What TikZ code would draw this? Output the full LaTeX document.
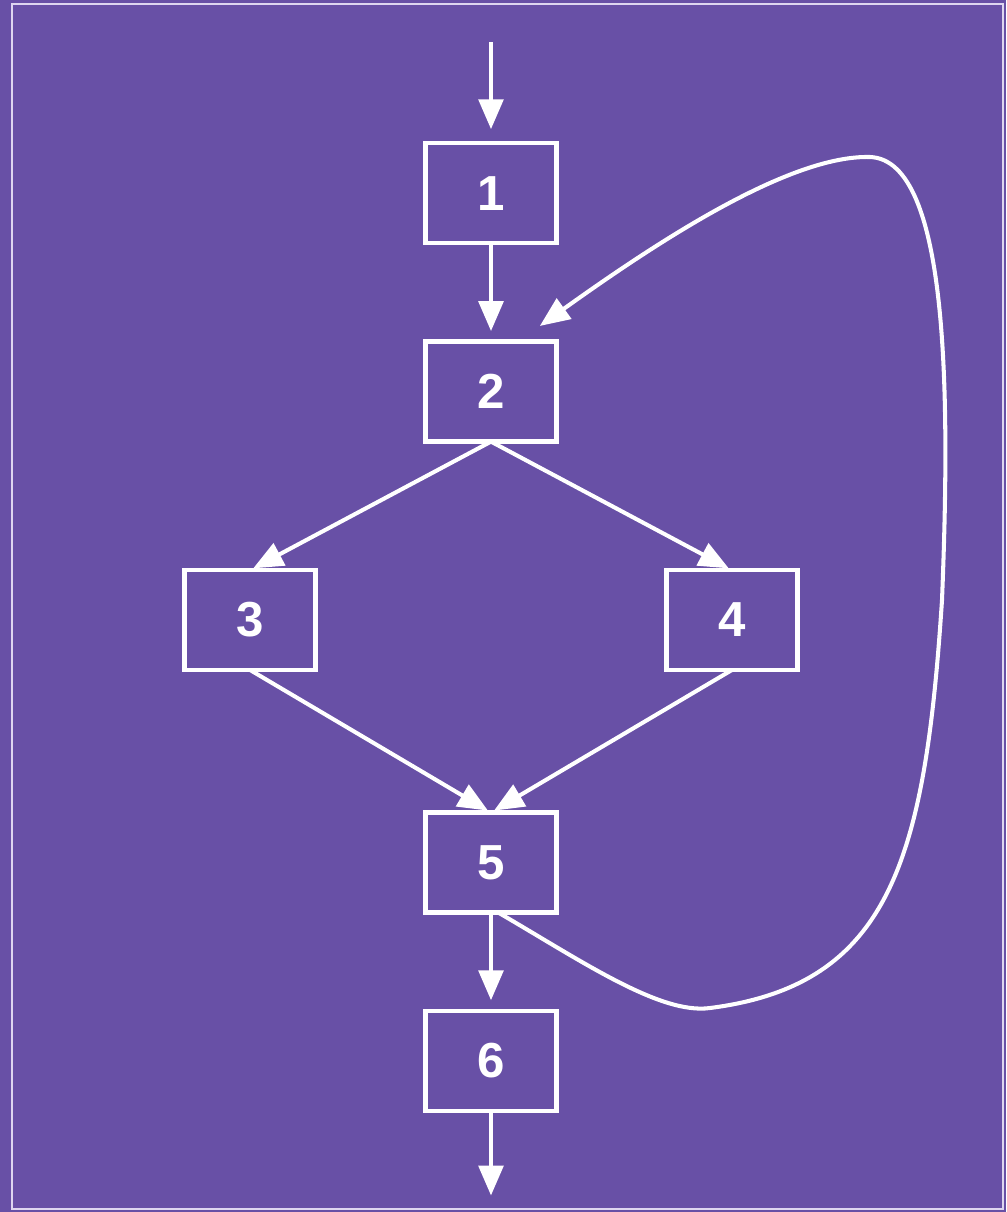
\documentclass[tikz,border=0pt]{standalone}
\usepackage{fontspec}
\setmainfont{Liberation Sans}
\usetikzlibrary{arrows.meta,graphs,matrix}
\definecolor{bgpurple}{RGB}{104,80,166}
\definecolor{framecol}{RGB}{222,214,240}
\tikzset{
    ampersand replacement=\&,
    >={Triangle[width=7pt,length=8.5pt]},
    shorten >=1pt,
    blockbox/.style={draw=white, line width=1.25pt, minimum width=1.31cm,
        minimum height=1cm, inner sep=0pt, outer sep=0pt, text=white,
        font=\fontsize{14}{16}\selectfont\bfseries},
    flow/.style={->, draw=white, line width=1.15pt},
}

\begin{document}
\begin{tikzpicture}
            \fill[bgpurple] (0,0) rectangle (10.06,-12.12);
            \useasboundingbox (0,0) rectangle (10.06,-12.12);
            \draw[framecol, line width=0.7pt] (0.12,-0.04) rectangle (10.03,-12.09);

            \matrix (chart) [row sep=0.94cm, column sep=1.055cm] at (4.91,-6.27) {
                \& \node[blockbox] (b1) {1}; \& \\
                \& \node[blockbox] (b2) {2}; \& \\[0.30cm]
                \node[blockbox] (b3) {3}; \& \& \node[blockbox] (b4) {4}; \\[0.44cm]
                \& \node[blockbox] (b5) {5}; \& \\
                \& \node[blockbox] (b6) {6}; \& \\
            } ;

            \coordinate (entry) at (4.91,-0.42);
            \coordinate (exit) at (4.91,-11.99);
            \coordinate (back) at (5.37,-3.28);

            \graph[use existing nodes, edges={flow}] {
                entry ->[shorten >=4pt] b1 ->[shorten >=3pt] b2;
                b5 ->[shorten >=3pt] b6 -> exit;
            } ;

            % branches and joins
            \draw[flow] (b2.south) -- (b3.north);
            \draw[flow] (b2.south) -- (b4.north);
            \draw[flow] (b3.south) -- (b5.north);
            \draw[flow] (b4.south) -- (b5.north);

            % loop back from 5 to 2
            \draw[flow] ([xshift=0.07cm]b5.south) .. controls (5.8,-9.6) and (6.6,-10.15) .. (7.1,-10.08)
                .. controls (8.9,-9.85) and (9.25,-8.6) .. (9.42,-6.0)
                .. controls (9.5,-4.0) and (9.5,-1.6) .. (8.7,-1.57)
                .. controls (7.9,-1.55) and (6.6,-2.4) .. (back);
        \end{tikzpicture}
\end{document}
